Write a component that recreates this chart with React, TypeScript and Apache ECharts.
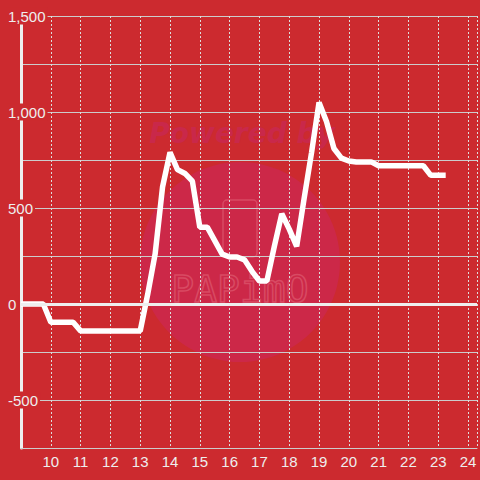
import React, { useEffect, useRef } from 'react';
import * as echarts from 'echarts';

const times = [
  '9:00', '9:15', '9:30', '9:45',
  '10:00', '10:15', '10:30', '10:45',
  '11:00', '11:15', '11:30', '11:45',
  '12:00', '12:15', '12:30', '12:45',
  '13:00', '13:15', '13:30', '13:45',
  '14:00', '14:15', '14:30', '14:45',
  '15:00', '15:15', '15:30', '15:45',
  '16:00', '16:15', '16:30', '16:45',
  '17:00', '17:15', '17:30', '17:45',
  '18:00', '18:15', '18:30', '18:45',
  '19:00', '19:15', '19:30', '19:45',
  '20:00', '20:15', '20:30', '20:45',
  '21:00', '21:15', '21:30', '21:45',
  '22:00', '22:15', '22:30', '22:45',
  '23:00', '23:15',
];

const values = [
  0, 0, 0, 0,
  -95, -95, -95, -95,
  -140, -140, -140, -140,
  -140, -140, -140, -140,
  -140, 50, 260, 610,
  790, 700, 680, 640,
  400, 400, 330, 260,
  245, 245, 230, 170,
  120, 120, 300, 470,
  390, 300, 550, 790,
  1050, 950, 810, 760,
  745, 740, 740, 740,
  720, 720, 720, 720,
  720, 720, 720, 670,
  670, 670,
];

const xTickLabels = [10, 11, 12, 13, 14, 15, 16, 17, 18, 19, 20, 21, 22, 23, 24];
const yTickLabels = [-500, 0, 500, 1000, 1500];

const BG = '#cc2a2f';

function toHour(t: string): number {
  const [h, m] = t.split(':').map(Number);
  return h + m / 60;
}

export default function App() {
  const ref = useRef<HTMLDivElement>(null);

  useEffect(() => {
    const chart = echarts.init(ref.current!, null, { renderer: 'svg' });
    const seriesData = times.map((t, i) => [toHour(t), values[i]]);
    chart.setOption({
      animation: false,
      backgroundColor: BG,
      graphic: {
        elements: [
          {
            type: 'circle',
            z: -1,
            silent: true,
            shape: { cx: 240, cy: 262, r: 100 },
            style: { fill: '#cc2848' },
          },
          {
            type: 'text',
            z: -1,
            silent: true,
            x: 242,
            y: 133,
            style: {
              text: 'Powered by',
              font: 'italic bold 28px "DejaVu Sans"',
              fill: '#c9284a',
              align: 'center',
              verticalAlign: 'middle',
            },
          },
          {
            type: 'rect',
            z: -1,
            silent: true,
            shape: { x: 223, y: 200, width: 34, height: 57, r: 4 },
            style: { fill: 'none', stroke: '#d84a63', lineWidth: 1.5 },
          },
          {
            type: 'text',
            z: -1,
            silent: true,
            x: 240,
            y: 289,
            style: {
              text: 'PAPimO',
              font: '38px "DejaVu Sans Mono"',
              fill: 'none',
              stroke: '#d84a63',
              lineWidth: 1.5,
              align: 'center',
              verticalAlign: 'middle',
            },
          },
        ],
      },
      grid: { left: 21, right: 0, top: 16, bottom: 32, containLabel: false },
      xAxis: {
        type: 'value',
        min: 9,
        max: 24.3,
        interval: 1,
        axisLine: { show: true, onZero: false, lineStyle: { color: '#cccccc', width: 1 } },
        axisTick: { show: false },
        axisLabel: {
          color: '#eeeeee',
          fontSize: 15,
          fontFamily: 'Liberation Sans',
          margin: 6,
          formatter: (v: number) => {
            const r = Math.round(v);
            return Math.abs(v - r) < 1e-6 && xTickLabels.includes(r) ? String(r) : '';
          },
        },
        splitLine: { show: true, lineStyle: { color: '#dddddd', type: [2, 2], width: 1 } },
      },
      yAxis: [
        {
          type: 'value',
          min: -750,
          max: 1500,
          interval: 250,
          axisLine: { show: true, lineStyle: { color: '#eeeeee', width: 3 } },
          axisTick: { show: false },
          axisLabel: { show: false },
          splitLine: { show: true, lineStyle: { color: '#cccccc', width: 1 } },
        },
        {
          type: 'value',
          min: -750,
          max: 1500,
          interval: 250,
          position: 'left',
          z: 10,
          axisLine: { show: false },
          axisTick: { show: false },
          splitLine: { show: false },
          axisLabel: {
            customValues: yTickLabels,
            color: '#eeeeee',
            fontSize: 15,
            fontFamily: 'Liberation Sans',
            align: 'left',
            margin: 15,
            backgroundColor: BG,
            padding: [1, 2],
            formatter: (v: number) => v.toLocaleString('en-US'),
          },
        },
      ],
      series: [
        {
          type: 'line',
          data: seriesData,
          yAxisIndex: 0,
          showSymbol: false,
          symbol: 'none',
          lineStyle: { color: '#ffffff', width: 5.5 },
          markLine: {
            silent: true,
            symbol: 'none',
            label: { show: false },
            lineStyle: { color: '#eeeeee', width: 3, type: 'solid' },
            data: [{ yAxis: 0 }],
          },
        },
      ],
    });
    return () => chart.dispose();
  }, []);

  return (
    <div
      ref={ref}
      style={{ position: 'fixed', left: 0, top: 0, width: 480, height: 480 }}
    />
  );
}
